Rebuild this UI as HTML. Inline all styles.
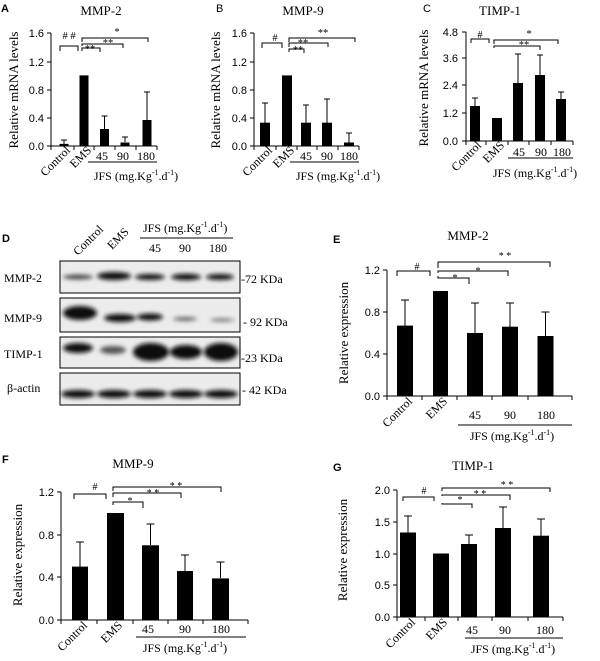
<!DOCTYPE html>
<html><head><meta charset="utf-8"><style>
body{margin:0;background:#fff}
svg{display:block}
.s{font-family:"Liberation Serif",serif}
.a{font-family:"Liberation Sans",sans-serif}
</style></head><body>
<svg width="600" height="661" viewBox="0 0 600 661" xmlns="http://www.w3.org/2000/svg">
<defs>
<filter id="bl" x="-30%" y="-100%" width="160%" height="300%"><feGaussianBlur stdDeviation="2.2"/></filter>
</defs>
<g fill="#000" stroke="none">
<!-- Panel letters -->
<text x="1" y="12" class="a" font-size="11" font-weight="bold">A</text>
<text x="216" y="12" class="a" font-size="11">B</text>
<text x="423" y="12" class="a" font-size="11">C</text>
<text x="2" y="242" class="a" font-size="11" font-weight="bold">D</text>
<text x="333" y="243" class="a" font-size="11" font-weight="bold">E</text>
<text x="2" y="463" class="a" font-size="11" font-weight="bold">F</text>
<text x="333" y="471" class="a" font-size="11" font-weight="bold">G</text>
</g>

<!-- ===== Panel A ===== -->
<g class="s" font-size="13" text-anchor="middle"><text x="101" y="15">MMP-2</text><text x="303" y="15">MMP-9</text><text x="500" y="15">TIMP-1</text></g>
<g stroke="#000" stroke-width="1" fill="none">
<path d="M51 33V146H157M47 33H51M47 62H51M47 90H51M47 118H51M47 146H51M51 146V150M74 146V150M94 146V150M115 146V150M136 146V150M157 146V150"/>
<path d="M88 162H157"/>
<!-- error bars -->
<path d="M64 144V140M61 140H67M104.5 129V116M101.5 116H107.5M125 142V137M122 137H128M147 120V92M144 92H150"/>
<!-- brackets -->
<path d="M60 51V46H78V51M82 51V48H100V52M82 46V44H123V48M82 42V38H148V42"/>
</g>
<g fill="#000">
<rect x="59.5" y="143.9" width="9" height="2.1"/><rect x="79.5" y="75.4" width="9" height="70.6"/><rect x="100" y="129" width="9" height="17"/><rect x="120.5" y="142.5" width="9" height="3.5"/><rect x="142.5" y="120" width="9" height="26"/>
</g>
<g class="a" font-size="11" text-anchor="end"><text x="44" y="37">1.6</text><text x="44" y="66">1.2</text><text x="44" y="94">0.8</text><text x="44" y="122">0.4</text><text x="44" y="150">0.0</text></g>
<g class="s" font-size="10.5" text-anchor="middle"><text x="69" y="39">#  #</text><text x="90" y="52">**</text><text x="108" y="46">**</text><text x="117" y="35">*</text></g>
<text class="s" font-size="13" text-anchor="middle" transform="translate(18 90) rotate(-90)">Relative mRNA levels</text>
<g class="s" font-size="12">
<text text-anchor="end" transform="translate(71 151) rotate(-45)">Control</text>
<text text-anchor="end" transform="translate(92 151) rotate(-45)">EMS</text>
<text x="102" y="160" text-anchor="middle">45</text><text x="123" y="160" text-anchor="middle">90</text><text x="146" y="160" text-anchor="middle">180</text>
<text x="136" y="180" text-anchor="middle">JFS (mg.Kg<tspan font-size="8" dy="-5">-1</tspan><tspan dy="5">.d</tspan><tspan font-size="8" dy="-5">-1</tspan><tspan dy="5">)</tspan></text>
</g>

<!-- ===== Panel B ===== -->
<g stroke="#000" stroke-width="1" fill="none">
<path d="M254 33V146H359M250 33H254M250 62H254M250 90H254M250 118H254M250 146H254M254 146V150M276 146V150M297 146V150M317 146V150M338 146V150M359 146V150"/>
<path d="M290 162H359"/>
<path d="M265 123V103M262 103H268M306 123V105M303 105H309M327 123V99M324 99H330M349 142.5V133M346 133H352"/>
<path d="M262 48V43H282V48M289 52V49H304V53M289 47V43H328V47M289 42V38H355V42"/>
</g>
<g fill="#000">
<rect x="260" y="122.7" width="10" height="23.3"/><rect x="282" y="75.4" width="10" height="70.6"/><rect x="301" y="122.7" width="10" height="23.3"/><rect x="322" y="122.7" width="10" height="23.3"/><rect x="344" y="142.5" width="10" height="3.5"/>
</g>
<g class="a" font-size="11" text-anchor="end"><text x="247" y="37">1.6</text><text x="247" y="66">1.2</text><text x="247" y="94">0.8</text><text x="247" y="122">0.4</text><text x="247" y="150">0.0</text></g>
<g class="s" font-size="10.5" text-anchor="middle"><text x="275" y="41">#</text><text x="298" y="53">**</text><text x="303" y="46">**</text><text x="323" y="36">**</text></g>
<text class="s" font-size="13" text-anchor="middle" transform="translate(220 90) rotate(-90)">Relative mRNA levels</text>
<g class="s" font-size="12">
<text text-anchor="end" transform="translate(273 151) rotate(-45)">Control</text>
<text text-anchor="end" transform="translate(295 151) rotate(-45)">EMS</text>
<text x="306" y="160" text-anchor="middle">45</text><text x="327" y="160" text-anchor="middle">90</text><text x="349" y="160" text-anchor="middle">180</text>
<text x="338" y="180" text-anchor="middle">JFS (mg.Kg<tspan font-size="8" dy="-5">-1</tspan><tspan dy="5">.d</tspan><tspan font-size="8" dy="-5">-1</tspan><tspan dy="5">)</tspan></text>
</g>

<!-- ===== Panel C ===== -->
<g stroke="#000" stroke-width="1" fill="none">
<path d="M466 32V141H573M462 32H466M462 58H466M462 85H466M462 113H466M462 141H466M466 141V145M486 141V145M508 141V145M529 141V145M551 141V145M573 141V145"/>
<path d="M508 158H573"/>
<path d="M475 106V98M472 98H478M518 83V54M515 54H521M540 75V55M537 55H543M561 99V92M558 92H564"/>
<path d="M471 43V39H489V43M494 44V40H558V44M494 48V46H540V50"/>
</g>
<g fill="#000">
<rect x="470" y="106" width="10" height="35"/><rect x="492" y="118" width="10" height="23"/><rect x="513" y="83" width="10" height="58"/><rect x="535" y="75" width="10" height="66"/><rect x="556" y="99" width="10" height="42"/>
</g>
<g class="a" font-size="11" text-anchor="end"><text x="458" y="36">4.8</text><text x="458" y="62">3.6</text><text x="458" y="89">2.4</text><text x="458" y="117">1.2</text><text x="458" y="145">0.0</text></g>
<g class="s" font-size="10.5" text-anchor="middle"><text x="480" y="38">#</text><text x="529" y="37">*</text><text x="524" y="48">**</text></g>
<text class="s" font-size="13" text-anchor="middle" transform="translate(428 88) rotate(-90)">Relative mRNA levels</text>
<g class="s" font-size="12">
<text text-anchor="end" transform="translate(482 146) rotate(-45)">Control</text>
<text text-anchor="end" transform="translate(505 146) rotate(-45)">EMS</text>
<text x="519" y="156" text-anchor="middle">45</text><text x="541" y="156" text-anchor="middle">90</text><text x="562" y="156" text-anchor="middle">180</text>
<text x="535" y="177" text-anchor="middle">JFS (mg.Kg<tspan font-size="8" dy="-5">-1</tspan><tspan dy="5">.d</tspan><tspan font-size="8" dy="-5">-1</tspan><tspan dy="5">)</tspan></text>
</g>

<!-- ===== Panel D (blot) ===== -->
<g class="s" font-size="12">
<text text-anchor="start" transform="translate(78 256) rotate(-45)">Control</text>
<text text-anchor="start" transform="translate(112 250) rotate(-45)">EMS</text>
<text x="143" y="232">JFS (mg.Kg<tspan font-size="8" dy="-5">-1</tspan><tspan dy="5">.d</tspan><tspan font-size="8" dy="-5">-1</tspan><tspan dy="5">)</tspan></text>
<text x="155" y="252" text-anchor="middle">45</text><text x="185" y="252" text-anchor="middle">90</text><text x="218" y="252" text-anchor="middle">180</text>
<text x="4" y="282">MMP-2</text><text x="4" y="322">MMP-9</text><text x="4" y="358">TIMP-1</text><text x="7" y="392">β-actin</text>
<text x="241" y="283">-72 KDa</text><text x="243" y="326">- 92 KDa</text><text x="241" y="362">-23 KDa</text><text x="242" y="394">- 42 KDa</text>
</g>
<path d="M140 238H233" stroke="#000"/>
<g fill="#ececec" stroke="#000" stroke-width="1">
<rect x="60" y="261" width="180" height="32"/><rect x="60" y="298" width="180" height="34"/><rect x="60" y="337" width="180" height="31"/><rect x="60" y="373" width="180" height="32"/>
</g>
<g fill="#111" filter="url(#bl)">
<!-- MMP-2 -->
<ellipse cx="78" cy="277" rx="15" ry="2.5" fill="#444"/><ellipse cx="114" cy="276" rx="17" ry="4"/><ellipse cx="150" cy="277" rx="15" ry="3"/><ellipse cx="186" cy="277" rx="15" ry="3.2"/><ellipse cx="220" cy="277" rx="14" ry="3"/>
<!-- MMP-9 -->
<ellipse cx="80" cy="313" rx="17" ry="7"/><ellipse cx="120" cy="318" rx="16" ry="4"/><ellipse cx="150" cy="317" rx="13" ry="3.5"/><ellipse cx="185" cy="319" rx="12" ry="2" fill="#666"/><ellipse cx="222" cy="320" rx="12" ry="1.8" fill="#777"/>
<!-- TIMP-1 -->
<ellipse cx="78" cy="348" rx="15" ry="5"/><ellipse cx="113" cy="350" rx="13" ry="4" fill="#555"/><ellipse cx="151" cy="352" rx="18" ry="9"/><ellipse cx="186" cy="352" rx="16" ry="7"/><ellipse cx="221" cy="352" rx="17" ry="9"/>
<!-- actin -->
<ellipse cx="78" cy="394" rx="17" ry="4"/><ellipse cx="114" cy="394" rx="17" ry="4"/><ellipse cx="150" cy="394" rx="17" ry="4"/><ellipse cx="186" cy="394" rx="17" ry="4"/><ellipse cx="221" cy="394" rx="17" ry="4"/>
</g>

<!-- ===== Panel E ===== -->
<text x="468" y="240" class="s" font-size="13" text-anchor="middle">MMP-2</text>
<g stroke="#000" stroke-width="1" fill="none">
<path d="M387 270V396H572M383 270H387M383 312H387M383 354H387M383 396H387M387 396V400M422 396V400M457 396V400M492 396V400M528 396V400M572 396V400"/>
<path d="M458 425H572"/>
<path d="M405 326V300M401 300H409M475 333V303M471 303H479M510 327V303M506 303H514M545.5 336V312M541.5 312H549.5"/>
<path d="M397 276V271H430V276M438 276V278H469V284M438 273V271H508V276M438 268V262H550V267"/>
</g>
<g fill="#000">
<rect x="397" y="325.6" width="16" height="70.4"/><rect x="433" y="291" width="15" height="105"/><rect x="467" y="333" width="16" height="63"/><rect x="502" y="326.7" width="16" height="69.3"/><rect x="537.5" y="336" width="16" height="60"/>
</g>
<g class="a" font-size="11" text-anchor="end"><text x="380" y="274">1.2</text><text x="380" y="316">0.8</text><text x="380" y="358">0.4</text><text x="380" y="400">0.0</text></g>
<g class="s" font-size="10" text-anchor="middle"><text x="417" y="270">#</text><text x="455" y="281">*</text><text x="478" y="274">*</text><text x="505" y="259">* *</text></g>
<text class="s" font-size="13" text-anchor="middle" transform="translate(348 333) rotate(-90)">Relative expression</text>
<g class="s" font-size="12">
<text text-anchor="end" transform="translate(413 402) rotate(-45)">Control</text>
<text text-anchor="end" transform="translate(448 402) rotate(-45)">EMS</text>
<text x="475" y="419" text-anchor="middle">45</text><text x="510" y="419" text-anchor="middle">90</text><text x="546" y="419" text-anchor="middle">180</text>
<text x="512" y="440" text-anchor="middle">JFS (mg.Kg<tspan font-size="8" dy="-5">-1</tspan><tspan dy="5">.d</tspan><tspan font-size="8" dy="-5">-1</tspan><tspan dy="5">)</tspan></text>
</g>

<!-- ===== Panel F ===== -->
<text x="133" y="468" class="s" font-size="13" text-anchor="middle">MMP-9</text>
<g stroke="#000" stroke-width="1" fill="none">
<path d="M61 492V620H248M57 492H61M57 535H61M57 577H61M57 620H61M61 620V624M97 620V624M133 620V624M168 620V624M203 620V624M248 620V624"/>
<path d="M136 637H246"/>
<path d="M80 567V542M76 542H84M150.5 545V524M146.5 524H154.5M185 571V555M181 555H189M220.5 578V562M216.5 562H224.5"/>
<path d="M74 499V494H106V499M113 505V502H143V508M113 497V493H181V498M113 491V487H221V492"/>
</g>
<g fill="#000">
<rect x="72" y="566.6" width="16" height="53.4"/><rect x="107" y="513" width="17" height="107"/><rect x="142" y="545.3" width="17" height="74.7"/><rect x="177" y="571" width="16" height="49"/><rect x="212" y="578.4" width="17" height="41.6"/>
</g>
<g class="a" font-size="11" text-anchor="end"><text x="54" y="496">1.2</text><text x="54" y="539">0.8</text><text x="54" y="581">0.4</text><text x="54" y="624">0.0</text></g>
<g class="s" font-size="10" text-anchor="middle"><text x="95" y="490">#</text><text x="130" y="504">*</text><text x="153" y="496">* *</text><text x="176" y="489">* *</text></g>
<text class="s" font-size="13" text-anchor="middle" transform="translate(22 555) rotate(-90)">Relative expression</text>
<g class="s" font-size="12">
<text text-anchor="end" transform="translate(88 626) rotate(-45)">Control</text>
<text text-anchor="end" transform="translate(123 626) rotate(-45)">EMS</text>
<text x="148" y="633" text-anchor="middle">45</text><text x="185" y="633" text-anchor="middle">90</text><text x="221" y="633" text-anchor="middle">180</text>
<text x="185" y="652" text-anchor="middle">JFS (mg.Kg<tspan font-size="8" dy="-5">-1</tspan><tspan dy="5">.d</tspan><tspan font-size="8" dy="-5">-1</tspan><tspan dy="5">)</tspan></text>
</g>

<!-- ===== Panel G ===== -->
<text x="473" y="470" class="s" font-size="13" text-anchor="middle">TIMP-1</text>
<g stroke="#000" stroke-width="1" fill="none">
<path d="M397 490V617H563M393 490H397M393 522H397M393 554H397M393 585H397M393 617H397M397 617V621M425 617V621M458 617V621M492 617V621M528 617V621M563 617V621"/>
<path d="M465 638H563"/>
<path d="M408 533V516M404 516H412M469 544V535M465 535H473M503 529V507M499 507H507M541 536V519M537 519H545"/>
<path d="M403 501V497H434V501M442 503V504H472V508M442 496V495H510V500M442 491V488H550V492"/>
</g>
<g fill="#000">
<rect x="400" y="532.5" width="16" height="84.5"/><rect x="433" y="553.5" width="16" height="63.5"/><rect x="461" y="544" width="16" height="73"/><rect x="495" y="528" width="16" height="89"/><rect x="533" y="535.7" width="16" height="81.3"/>
</g>
<g class="a" font-size="11" text-anchor="end"><text x="390" y="494">2.0</text><text x="390" y="526">1.5</text><text x="390" y="558">1.0</text><text x="390" y="589">0.5</text><text x="390" y="621">0.0</text></g>
<g class="s" font-size="10" text-anchor="middle"><text x="424" y="494">#</text><text x="460" y="503">*</text><text x="480" y="497">* *</text><text x="507" y="488">* *</text></g>
<text class="s" font-size="13" text-anchor="middle" transform="translate(347 550) rotate(-90)">Relative expression</text>
<g class="s" font-size="12">
<text text-anchor="end" transform="translate(416 623) rotate(-45)">Control</text>
<text text-anchor="end" transform="translate(448 623) rotate(-45)">EMS</text>
<text x="472" y="634" text-anchor="middle">45</text><text x="505" y="634" text-anchor="middle">90</text><text x="545" y="634" text-anchor="middle">180</text>
<text x="513" y="653" text-anchor="middle">JFS (mg.Kg<tspan font-size="8" dy="-5">-1</tspan><tspan dy="5">.d</tspan><tspan font-size="8" dy="-5">-1</tspan><tspan dy="5">)</tspan></text>
</g>
</svg>
</body></html>
